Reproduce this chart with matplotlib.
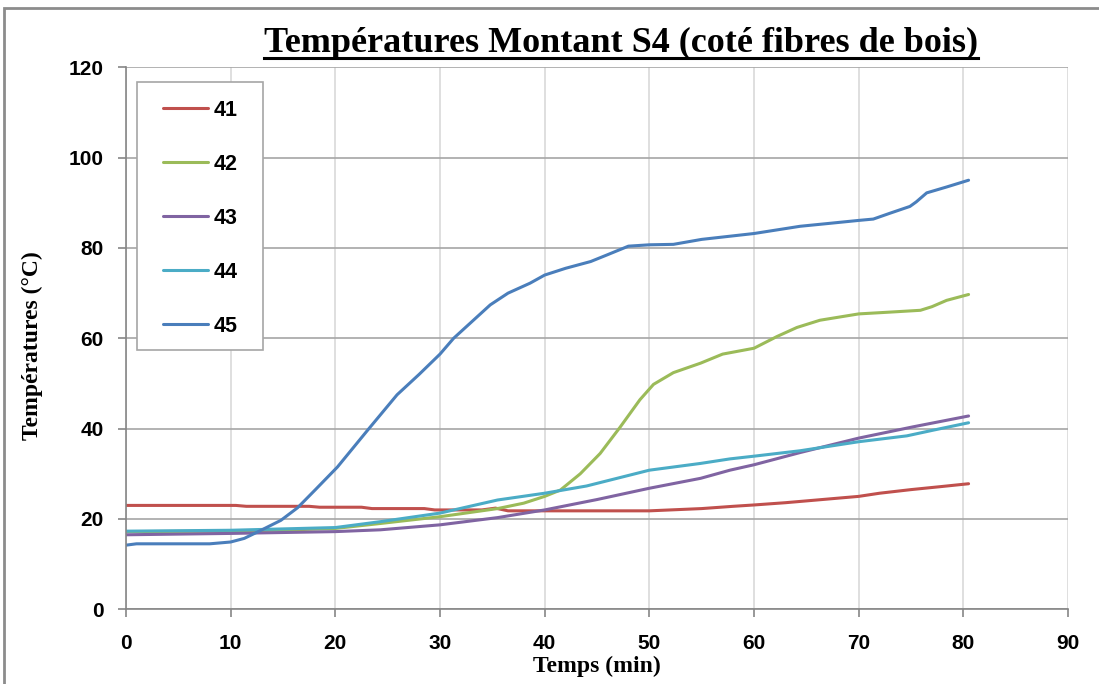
import matplotlib
matplotlib.use("Agg")
import matplotlib.pyplot as plt
from matplotlib.lines import Line2D
from matplotlib.patches import Rectangle

# temps (min) / température (°C)
t41 = [0, 10.5, 11.5, 17.5, 18.5, 22.5, 23.5, 28.5, 29.5, 34, 35.3, 36.5, 50, 53, 55, 58, 60, 63, 65, 68, 70, 72, 75, 78, 80.5]
v41 = [23.0, 23.0, 22.8, 22.8, 22.6, 22.6, 22.3, 22.3, 22.0, 22.0, 22.4, 21.8, 21.8, 22.1, 22.3, 22.8, 23.1, 23.6, 24.0, 24.6, 25.0, 25.7, 26.5, 27.2, 27.8]

t42 = [0, 10, 16, 20, 24.3, 30, 35.5, 38, 40, 41.5, 43.4, 45.3, 47.2, 49.1, 50.4, 52.3, 54.9, 57, 60, 62.2, 64.1, 66.3, 70, 73, 75.9, 77, 78.4, 80.5]
v42 = [17.2, 17.3, 17.6, 17.9, 19.0, 20.5, 22.3, 23.5, 25.0, 26.4, 30.0, 34.5, 40.3, 46.4, 49.8, 52.4, 54.5, 56.5, 57.8, 60.4, 62.4, 64.0, 65.4, 65.8, 66.2, 67.0, 68.4, 69.7]

t43 = [0, 10, 20, 24.3, 30, 35.5, 40, 45, 50, 54.9, 57.7, 60, 64.4, 70, 75.2, 80.5]
v43 = [16.5, 16.8, 17.2, 17.6, 18.7, 20.3, 22.0, 24.3, 26.8, 29.0, 30.8, 32.0, 34.7, 37.9, 40.4, 42.8]

t44 = [0, 10, 20, 24.3, 30, 35.5, 40, 44, 50, 54.9, 57.7, 60, 64.4, 70, 74.6, 77.2, 80.5]
v44 = [17.3, 17.5, 18.1, 19.4, 21.3, 24.2, 25.7, 27.3, 30.8, 32.3, 33.3, 33.9, 35.1, 37.1, 38.4, 39.7, 41.3]

t45 = [0, 1, 8, 10, 11.3, 12.9, 14.8, 16.4, 18.1, 20.2, 23.1, 25.9, 28, 30, 31.3, 34.8, 36.5, 38.6, 40, 42, 44.4, 46, 48, 50,
       52.3, 55, 60, 64.4, 67, 70, 71.4, 73, 74.9, 75.5, 76.5, 78.4, 80.5]
v45 = [14.2, 14.5, 14.5, 14.9, 15.7, 17.5, 19.7, 22.5, 26.5, 31.5, 39.7, 47.5, 52.0, 56.5, 60.0, 67.4, 70.0, 72.2, 74.0, 75.5,
       77.0, 78.5, 80.4, 80.7, 80.8, 81.9, 83.2, 84.8, 85.4, 86.1, 86.4, 87.7, 89.2, 90.2, 92.2, 93.5, 95.0]

series = [("41", t41, v41, "#C0504D"),
          ("42", t42, v42, "#9BBB59"),
          ("43", t43, v43, "#8064A2"),
          ("44", t44, v44, "#4BACC6"),
          ("45", t45, v45, "#4A7EBB")]

xticks = list(range(0, 91, 10))
yticks = list(range(0, 121, 20))

fig = plt.figure(figsize=(10.99, 6.84), dpi=100)
ax = fig.add_axes([126 / 1099, 1 - 609.3 / 684, (1068 - 126) / 1099, (609.3 - 67.3) / 684])

for name, t, v, c in series:
    ax.plot(t, v, color=c, lw=2.2, label=name, solid_capstyle="round", solid_joinstyle="round")

ax.set_xlim(0, 90)
ax.set_ylim(0, 120)
ax.set_xticks(xticks)
ax.set_yticks(yticks)

ax.grid(axis="y", color="#a6a6a6", lw=1.2)
ax.grid(axis="x", color="#d9d9d9", lw=1.2)
ax.set_axisbelow(True)

for s in ["top", "right"]:
    ax.spines[s].set_visible(False)
for s in ["left", "bottom"]:
    ax.spines[s].set_color("#868686")
    ax.spines[s].set_linewidth(1.2)

sans = "Liberation Sans"
serif = "Liberation Serif"
ax.tick_params(axis="both", direction="out", length=6, color="#868686", width=1.2)
ax.tick_params(axis="x", pad=12)
ax.tick_params(axis="y", pad=10)
for lab in ax.get_xticklabels() + ax.get_yticklabels():
    lab.set_fontfamily(sans)
    lab.set_fontweight("bold")
    lab.set_fontsize(15)

ax.set_xlabel("Temps (min)", fontfamily=serif, fontweight="bold", fontsize=17)
ax.set_ylabel("Températures (°C)", fontfamily=serif, fontweight="bold", fontsize=17)
ax.xaxis.set_label_coords((597 - 126) / 942, (609 - 656) / 542)
ax.yaxis.set_label_coords((43 - 126) / 942, (609 - 345) / 542)

# cadre de la légende (dessiné à part pour garder les marges d'Excel)
ax.add_patch(Rectangle(((137 - 126) / 942, (609.3 - 350) / 542), 126 / 942, 268 / 542,
                       transform=ax.transAxes, facecolor="white", edgecolor="#a6a6a6",
                       lw=1.2, zorder=4.5))
leg = ax.legend(loc="upper left", bbox_to_anchor=((163 - 126) / 942, (609.3 - 100) / 542),
                prop={"family": sans, "weight": "bold", "size": 15.5},
                frameon=False, borderpad=0, labelspacing=1.53, handlelength=2.1,
                handletextpad=0.25, borderaxespad=0)
leg.set_zorder(5)

title = fig.text(621 / 1099, 1 - 52 / 684, "Températures Montant S4 (coté fibres de bois)",
                 ha="center", va="baseline", fontfamily=serif, fontweight="bold", fontsize=26)

# soulignement du titre
fig.canvas.draw()
bb = title.get_window_extent(fig.canvas.get_renderer())
yu = 1 - 57.5 / 684
fig.add_artist(Line2D([bb.x0 / 1099, bb.x1 / 1099], [yu, yu], color="black", lw=2.2))

# cadre du graphique
fig.add_artist(Rectangle((4 / 1099, -0.05), 1.2, 1.05 - 8 / 684, transform=fig.transFigure,
                         fill=False, edgecolor="#8c8c8c", lw=2))

fig.savefig("out.png", dpi=100)
